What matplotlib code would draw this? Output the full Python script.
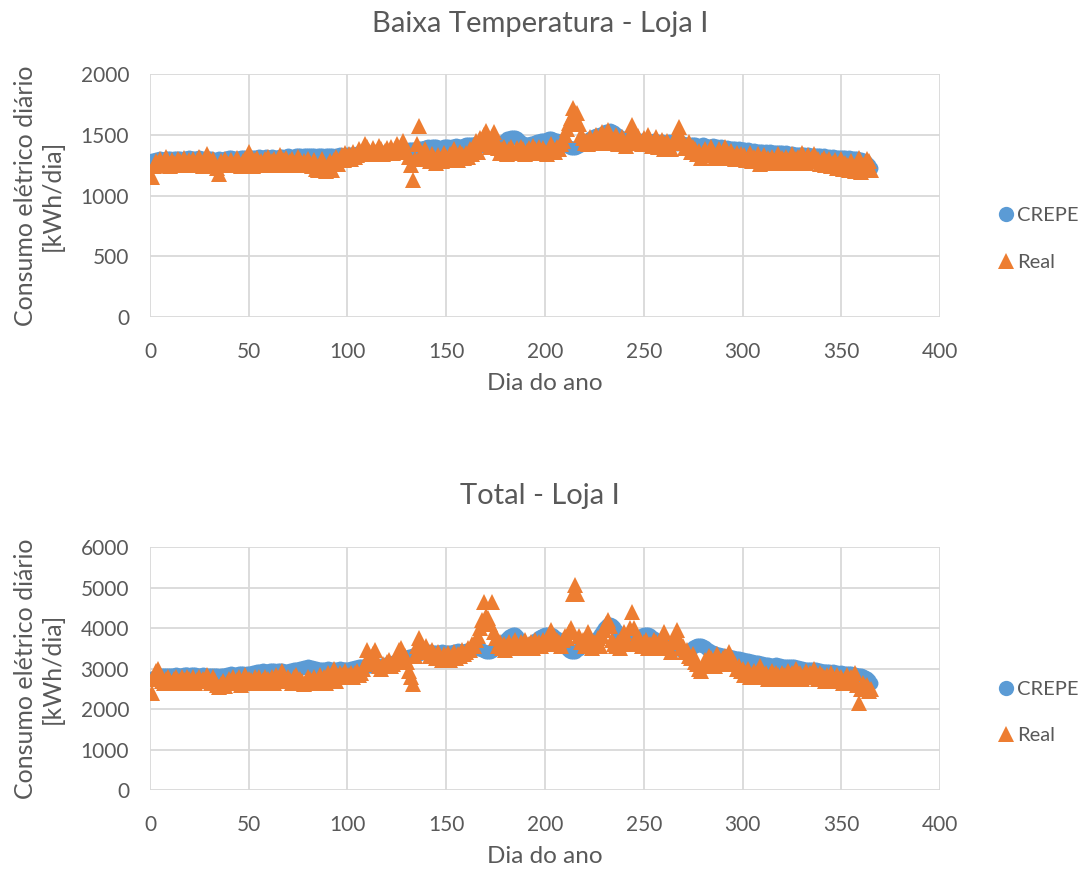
import numpy as np
import matplotlib
matplotlib.use("Agg")
import matplotlib.pyplot as plt

#%% Data (one value per day of the year)

crepe_bt = [
    1290,1295,1300,1300,1305,1300,1300,1305,1310,1305,1300,1305,1310,1310,1305,1300,1305,1310,1310,1315,
    1310,1310,1305,1310,1315,1310,1305,1300,1305,1310,1310,1300,1295,1300,1305,1300,1300,1305,1310,1315,
    1315,1310,1305,1305,1310,1315,1320,1315,1310,1315,1320,1320,1315,1320,1325,1320,1315,1320,1325,1320,
    1320,1325,1320,1315,1320,1325,1325,1320,1325,1330,1325,1320,1325,1330,1335,1330,1325,1330,1335,1330,
    1330,1335,1330,1325,1330,1335,1330,1325,1330,1335,1335,1330,1325,1330,1335,1340,1335,1330,1335,1340,
    1340,1345,1340,1345,1350,1345,1350,1355,1350,1345,1350,1355,1350,1355,1360,1355,1350,1355,1360,1355,
    1360,1365,1360,1365,1370,1365,1370,1375,1370,1375,1380,1385,1380,1385,1390,1395,1390,1395,1400,1400,
    1405,1400,1405,1410,1405,1400,1395,1400,1405,1410,1405,1400,1405,1410,1415,1410,1405,1410,1415,1420,
    1420,1425,1420,1425,1430,1425,1420,1415,1410,1405,1410,1415,1420,1425,1420,1425,1430,1440,1450,1460,
    1470,1475,1480,1485,1480,1470,1455,1440,1430,1425,1420,1425,1430,1435,1440,1445,1450,1455,1460,1460,
    1465,1470,1470,1465,1460,1455,1450,1440,1430,1420,1410,1400,1395,1390,1395,1400,1410,1420,1430,1440,
    1450,1460,1470,1480,1490,1495,1500,1505,1510,1520,1530,1535,1540,1535,1525,1510,1495,1480,1475,1470,
    1465,1460,1455,1460,1465,1460,1455,1450,1455,1460,1455,1450,1445,1450,1455,1450,1445,1440,1445,1440,
    1435,1440,1445,1440,1435,1430,1425,1430,1435,1430,1425,1420,1415,1420,1425,1420,1415,1410,1415,1420,
    1415,1410,1405,1410,1415,1410,1405,1400,1405,1400,1395,1400,1395,1390,1395,1390,1385,1390,1385,1380,
    1380,1375,1380,1375,1370,1375,1370,1365,1370,1365,1360,1365,1360,1365,1360,1355,1360,1355,1360,1355,
    1350,1355,1350,1345,1350,1345,1340,1345,1340,1345,1340,1335,1340,1335,1330,1335,1330,1335,1330,1325,
    1330,1325,1320,1325,1320,1325,1320,1315,1320,1315,1320,1315,1310,1315,1310,1305,1310,1305,1300,1300,
    1295,1285,1270,1250,1230,
]

real_bt = [
    1150,1240,1280,1260,1300,1250,1270,1320,1260,1240,1290,1270,1250,1300,1280,1260,1310,1250,1270,1290,
    1260,1300,1250,1280,1320,1260,1240,1290,1340,1270,1250,1300,1260,1230,1180,1280,1250,1300,1270,1260,
    1290,1250,1270,1310,1260,1240,1280,1300,1250,1360,1270,1240,1290,1310,1260,1280,1250,1300,1270,1320,
    1260,1280,1300,1250,1270,1330,1260,1290,1310,1250,1280,1300,1270,1260,1320,1290,1250,1280,1260,1300,
    1270,1240,1290,1220,1210,1260,1300,1230,1200,1250,1280,1210,1290,1320,1260,1300,1330,1290,1350,1310,
    1340,1300,1360,1320,1330,1380,1340,1360,1420,1400,1370,1340,1390,1360,1350,1410,1380,1340,1370,1390,
    1360,1400,1350,1380,1420,1390,1370,1450,1380,1360,1320,1250,1130,1300,1420,1570,1340,1300,1380,1330,
    1300,1280,1340,1310,1270,1330,1300,1280,1350,1320,1290,1340,1300,1380,1330,1290,1360,1340,1310,1350,
    1320,1380,1340,1400,1450,1360,1470,1420,1500,1530,1440,1400,1480,1520,1450,1390,1350,1380,1400,1360,
    1340,1380,1400,1370,1350,1390,1360,1400,1380,1340,1370,1390,1360,1410,1380,1350,1400,1370,1390,1360,
    1340,1380,1420,1390,1360,1400,1380,1420,1450,1500,1550,1600,1640,1720,1650,1680,1590,1500,1470,1430,
    1450,1420,1480,1440,1460,1500,1430,1470,1520,1450,1490,1540,1470,1430,1460,1500,1420,1450,1480,1440,
    1410,1460,1500,1580,1470,1430,1490,1450,1420,1470,1440,1500,1460,1410,1440,1480,1400,1430,1460,1380,
    1420,1450,1400,1380,1430,1470,1500,1560,1480,1430,1390,1410,1440,1360,1400,1380,1340,1370,1310,1350,
    1380,1330,1360,1400,1350,1310,1340,1380,1320,1360,1400,1340,1310,1370,1330,1300,1350,1320,1340,1300,
    1330,1290,1310,1350,1280,1320,1290,1340,1260,1300,1330,1270,1310,1290,1320,1280,1300,1340,1270,1310,
    1290,1320,1280,1300,1340,1270,1300,1320,1280,1350,1300,1270,1330,1290,1310,1340,1280,1300,1260,1290,
    1310,1250,1280,1300,1240,1270,1290,1230,1260,1300,1220,1270,1250,1210,1280,1230,1200,1260,1310,1190,
    1250,1220,1300,1280,1210,
]

crepe_tot = [
    2750,2780,2800,2820,2830,2840,2850,2850,2840,2830,2840,2850,2860,2850,2840,2850,2860,2870,2860,2850,
    2860,2870,2860,2850,2840,2850,2860,2850,2840,2830,2840,2850,2840,2830,2820,2830,2840,2850,2860,2870,
    2880,2870,2860,2870,2880,2890,2880,2870,2880,2890,2900,2910,2920,2930,2940,2950,2960,2950,2940,2950,
    2960,2970,2960,2950,2960,2970,2960,2950,2940,2950,2960,2970,2980,2990,3000,3010,3020,3030,3040,3050,
    3040,3030,3020,3010,3000,2990,2980,2990,3000,3010,3000,2990,2980,2990,3000,3010,3000,2990,2980,2990,
    3000,3010,3020,3030,3040,3050,3060,3050,3040,3050,3060,3070,3080,3070,3060,3070,3080,3090,3100,3110,
    3120,3130,3150,3170,3190,3210,3230,3250,3270,3290,3300,3320,3340,3350,3360,3370,3380,3390,3400,3410,
    3420,3430,3420,3410,3400,3410,3420,3430,3420,3410,3400,3410,3420,3430,3440,3450,3440,3430,3440,3450,
    3460,3470,3480,3490,3500,3490,3480,3460,3440,3420,3410,3420,3440,3470,3500,3530,3560,3600,3650,3700,
    3750,3800,3830,3850,3840,3800,3740,3680,3620,3580,3560,3580,3620,3660,3700,3740,3780,3810,3830,3840,
    3850,3850,3840,3820,3790,3750,3700,3650,3600,3540,3480,3440,3420,3410,3420,3450,3490,3530,3560,3590,
    3610,3630,3650,3670,3700,3740,3790,3850,3920,3990,4050,4090,4100,4080,4030,3950,3850,3760,3680,3640,
    3620,3630,3650,3680,3710,3740,3770,3800,3820,3840,3850,3840,3820,3790,3750,3710,3680,3650,3630,3610,
    3600,3590,3570,3550,3530,3510,3490,3470,3450,3440,3430,3440,3460,3490,3520,3550,3570,3580,3580,3560,
    3530,3490,3450,3420,3400,3380,3360,3350,3340,3330,3320,3310,3300,3290,3280,3270,3260,3250,3240,3230,
    3220,3210,3200,3190,3180,3170,3160,3150,3140,3130,3120,3110,3100,3090,3080,3090,3100,3090,3080,3070,
    3060,3050,3060,3070,3060,3050,3040,3030,3020,3010,3000,2990,2980,2990,3000,2990,2980,2970,2960,2950,
    2940,2950,2940,2930,2920,2930,2920,2910,2900,2910,2900,2890,2880,2890,2880,2870,2860,2850,2840,2830,
    2820,2800,2770,2720,2650,
]

real_tot = [
    2400,2750,2950,3000,2850,2700,2650,2750,2800,2700,2650,2750,2800,2700,2680,2780,2720,2650,2800,2750,
    2700,2780,2650,2720,2800,2680,2750,2700,2850,2720,2650,2780,2700,2600,2550,2620,2700,2580,2650,2750,
    2700,2800,2650,2720,2780,2600,2700,2850,2680,2750,2720,2650,2800,2700,2780,2650,2720,2800,2680,2750,
    2700,2780,2650,2850,2720,2800,2950,2750,2680,2800,2720,2650,2780,2850,2700,2750,2680,2620,2700,2800,
    2750,2680,2800,2650,2720,2850,2700,2780,2650,2900,2750,2820,2980,2700,2800,2900,2850,2780,2950,2820,
    2850,2900,2800,2880,2950,2850,2900,3000,3100,3450,3300,3200,3350,3450,3150,3050,3000,3100,3050,3150,
    3200,3050,3100,3150,3250,3450,3500,3350,3300,3150,2950,2800,2620,3300,3550,3750,3500,3400,3450,3550,
    3400,3300,3450,3350,3250,3400,3300,3200,3350,3300,3380,3200,3300,3400,3250,3350,3300,3450,3350,3400,
    3500,3450,3600,3550,3700,3800,4000,4200,4650,4300,4250,4100,4650,3900,3750,3550,3650,3500,3600,3450,
    3550,3650,3500,3600,3700,3550,3500,3650,3600,3700,3550,3600,3650,3500,3700,3600,3650,3550,3700,3600,
    3650,3700,3950,3750,3600,3700,3650,3550,3700,3800,3750,3900,4000,4850,5050,4850,3800,3650,3700,3550,
    3600,3900,3700,3500,3650,3600,3750,3550,3800,3950,4100,4200,4050,3700,3600,3550,3650,3500,3750,3900,
    3700,3600,4000,4400,4000,3750,3600,3700,3550,3650,3700,3500,3600,3550,3700,3650,3500,3600,3750,3900,
    3600,3550,3500,3400,3650,3800,3950,3700,3500,3550,3400,3450,3300,3250,3350,3150,3100,3000,2950,3050,
    3200,3100,3300,3250,3150,3050,3350,3200,3100,3250,3300,3200,3400,3250,3150,3100,3000,3050,2950,3000,
    2850,2900,3000,2800,2850,2950,2800,2900,3050,2850,2800,2900,2750,2850,2950,2800,2900,2850,2750,2900,
    2850,2800,2950,2750,2900,2850,3000,2800,2900,2750,2850,2950,2800,2900,2850,3000,2800,2750,2900,2850,
    2800,2700,2850,2750,2900,2800,2700,2850,2750,2800,2650,2750,2850,2700,2800,2650,2900,2600,2150,2500,
    2650,2550,2600,2450,2500,
]

#%% Style

BLUE = "#5B9BD5"
ORANGE = "#ED7D31"
GRID = "#D9D9D9"
TXT = "#595959"
FONT = ["Lato", "DejaVu Sans"]

plt.rcParams["font.family"] = FONT
plt.rcParams["text.color"] = TXT

fig = plt.figure(figsize=(10.85, 8.72), dpi=100)

panels = [
    # (axes rect, title, title y, crepe, real, ymax, ystep, legend y)
    ([0.1382, 0.6365, 0.7282, 0.2786], "Baixa Temperatura - Loja I", 0.972, crepe_bt, real_bt, 2000, 500, 0.726),
    ([0.1382, 0.0940, 0.7282, 0.2787], "Total - Loja I", 0.431, crepe_tot, real_tot, 6000, 1000, 0.183),
]

for rect, title, ty, crepe, real, ymax, ystep, ly in panels:
    ax = fig.add_axes(rect)
    x_c = np.arange(1, len(crepe) + 1)
    x_r = np.arange(1, len(real) + 1)
    ax.plot(x_c, crepe, "o", color=BLUE, markersize=10, markeredgewidth=0, label="CREPE", zorder=3)
    ax.plot(x_r, real, "^", color=ORANGE, markersize=11, markeredgewidth=0, label="Real", zorder=4)

    ax.set_xlim(0, 400)
    ax.set_ylim(0, ymax)
    ax.set_xticks(range(0, 401, 50))
    ax.set_yticks(range(0, ymax + 1, ystep))
    ax.grid(color=GRID, linewidth=1.3)
    ax.set_axisbelow(True)
    for s in ax.spines.values():
        s.set_visible(False)
    ax.tick_params(length=0, labelsize=15, labelcolor=TXT, pad=15)
    ax.tick_params(axis="x", pad=18)

    ax.set_xlabel("Dia do ano", fontsize=17.5, color=TXT, labelpad=8)
    ax.set_ylabel("Consumo elétrico diário\n[kWh/dia]", fontsize=18, color=TXT, labelpad=12)
    fig.text(0.498, ty, title, fontsize=21, color=TXT, ha="center", va="center")

    ax.legend(loc="center left", bbox_to_anchor=(0.9015, ly), bbox_transform=fig.transFigure,
              frameon=False, fontsize=14.5, labelspacing=1.45, handletextpad=0.05,
              handlelength=1.0, labelcolor=TXT, markerscale=1.1)

plt.savefig("out.png", dpi=100)
